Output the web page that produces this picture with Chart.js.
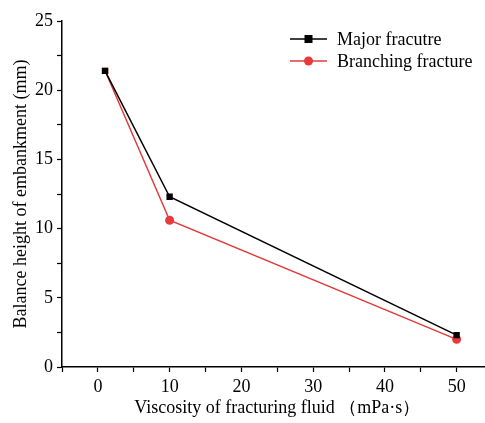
<!DOCTYPE html>
<html>
<head>
<meta charset="utf-8">
<script src="https://cdn.jsdelivr.net/npm/chart.js@4/dist/chart.umd.min.js"></script>
<style>
  html, body { margin: 0; padding: 0; background: #fff; overflow: hidden; }
  /* the original figure is cut off on the right, past the end of the x axis */
  #wrap { width: 497px; height: 423px; }
</style>
</head>
<body>
<div id="wrap"><canvas id="chart"></canvas></div>
<script>
  // Data
  const viscosity = [1, 10, 50];
  const majorFracture = [21.4, 12.3, 2.3];
  const branchingFracture = [21.4, 10.6, 2.0];
  const seriesNames = ['Major fracutre', 'Branching fracture'];
  const xTickValues = [-5, 0, 5, 10, 15, 20, 25, 30, 35, 40, 45, 50, 55];

  const serif = "'Liberation Serif', 'Times New Roman', serif";

  // legend drawn inside the plot, top right
  const innerLegend = {
    id: 'innerLegend',
    afterDraw(chart) {
      const ctx = chart.ctx;
      ctx.save();
      chart.data.datasets.forEach((ds, i) => {
        const y = 39 + i * 22;
        const x0 = 290, x1 = 327;
        ctx.strokeStyle = ds.borderColor;
        ctx.lineWidth = 1.5;
        ctx.beginPath();
        ctx.moveTo(x0, y);
        ctx.lineTo(x1, y);
        ctx.stroke();
        ctx.fillStyle = ds.backgroundColor;
        const mid = (x0 + x1) / 2;
        if (i === 0) {
          ctx.fillRect(mid - 4, y - 4, 8, 8);
        } else {
          ctx.beginPath();
          ctx.arc(mid, y, 4.5, 0, Math.PI * 2);
          ctx.fill();
        }
        ctx.fillStyle = '#000';
        ctx.font = '18px ' + serif;
        ctx.textBaseline = 'middle';
        ctx.fillText(ds.label, 337, y + 1);
      });
      ctx.restore();
    }
  };

  const ctx = document.getElementById('chart').getContext('2d');
  const chart = new Chart(ctx, {
    type: 'line',
    data: {
      datasets: [{
        label: seriesNames[0],
        data: viscosity.map((v, i) => ({ x: v, y: majorFracture[i] })),
        borderColor: '#000000',
        backgroundColor: '#000000',
        borderWidth: 1.5,
        pointStyle: 'rect',
        pointRadius: 4.5,
        pointBorderWidth: 0
      }, {
        label: seriesNames[1],
        data: viscosity.map((v, i) => ({ x: v, y: branchingFracture[i] })),
        borderColor: '#e03c3c',
        backgroundColor: '#e83a3a',
        borderWidth: 1.5,
        pointStyle: ['rect', 'circle', 'circle'],
        pointRadius: 4.5,
        pointBorderWidth: 0
      }]
    },
    options: {
      responsive: true,
      maintainAspectRatio: false,
      animation: false,
      layout: { padding: { top: 21, right: 0, left: 0, bottom: 0 } },
      plugins: {
        legend: { display: false },
        tooltip: { enabled: false }
      },
      scales: {
        x: {
          type: 'linear',
          min: -5,
          max: 55,
          afterBuildTicks(scale) {
            scale.ticks = xTickValues.map(v => ({ value: v }));
          },
          afterFit(scale) { scale.height = 56; },
          border: { display: true, color: '#000', width: 1.5 },
          grid: { drawOnChartArea: false, drawTicks: true, tickLength: 5, color: '#000', tickWidth: 1.2 },
          ticks: {
            autoSkip: false,
            color: '#000',
            padding: 4,
            maxRotation: 0,
            font: { family: serif, size: 18 },
            callback: v => (v % 10 === 0 && v <= 50 ? v : '')
          },
          title: {
            display: true,
            text: 'Viscosity of fracturing fluid （mPa·s）',
            color: '#000',
            font: { family: serif, size: 18 },
            padding: { top: 3 }
          }
        },
        y: {
          type: 'linear',
          min: 0,
          max: 25,
          afterFit(scale) { scale.width = 62; },
          border: { display: true, color: '#000', width: 1.5 },
          grid: { drawOnChartArea: false, drawTicks: true, tickLength: 5, color: '#000', tickWidth: 1.2 },
          ticks: {
            stepSize: 2.5,
            autoSkip: false,
            color: '#000',
            padding: 4,
            font: { family: serif, size: 18 },
            callback: v => (v % 5 === 0 ? v : '')
          },
          title: {
            display: true,
            text: 'Balance height of embankment (mm)',
            color: '#000',
            font: { family: serif, size: 18 },
            padding: { top: 10, bottom: 0 }
          }
        }
      }
    },
    plugins: [innerLegend]
  });
</script>
</body>
</html>
